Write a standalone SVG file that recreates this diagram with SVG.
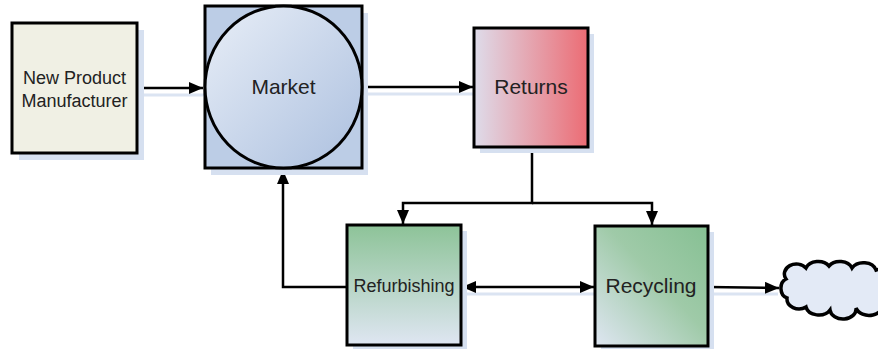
<svg xmlns="http://www.w3.org/2000/svg" width="878" height="349" viewBox="0 0 878 349">
<defs>
<style>
.box{stroke:#000;stroke-width:3}
.sh{fill:#d6e0f0}
.lbl{font-family:"Liberation Sans",Arial,sans-serif;fill:#222;text-anchor:middle}
.con{fill:none;stroke:#000;stroke-width:2.5}
.csh{fill:none;stroke:#dbe4f2;stroke-width:3}
</style>
<marker id="ah" markerUnits="userSpaceOnUse" markerWidth="14" markerHeight="12" viewBox="0 0 14 12" refX="14" refY="6" orient="auto-start-reverse">
<path d="M0,0 L14,6 L0,12 Z" fill="#000"/>
</marker>
<linearGradient id="gMarket" x1="0" y1="0" x2="1" y2="1">
<stop offset="0" stop-color="#e8eef7"/>
<stop offset="1" stop-color="#acc0df"/>
</linearGradient>
<linearGradient id="gRet" x1="0" y1="0" x2="1" y2="0">
<stop offset="0" stop-color="#dedcea"/>
<stop offset="1" stop-color="#ec6c74"/>
</linearGradient>
<linearGradient id="gRef" x1="0" y1="0" x2="0" y2="1">
<stop offset="0" stop-color="#8dc398"/>
<stop offset="1" stop-color="#dfe6f2"/>
</linearGradient>
<linearGradient id="gRec" x1="0" y1="1" x2="1" y2="0">
<stop offset="0" stop-color="#dfe6f2"/>
<stop offset="0.55" stop-color="#9fcaa8"/>
<stop offset="1" stop-color="#86c093"/>
</linearGradient>
</defs>

<g id="connectors">
<g>
<path class="csh" d="M140,95 H204"/>
<path class="csh" d="M365,94 H476"/>
<path class="csh" d="M466,294 H596"/>
<path class="csh" d="M712,294 H778"/>
</g>
<path class="con" d="M137,88 H203" marker-end="url(#ah)"/>
<path class="con" d="M362,87 H473" marker-end="url(#ah)"/>
<path class="con" d="M532,147 V203 H403 V224" marker-end="url(#ah)"/>
<path class="con" d="M532,203 H652 V225" marker-end="url(#ah)"/>
<path class="con" d="M347,287 H283 V170" marker-end="url(#ah)"/>
<path class="con" d="M462,287 H594" marker-start="url(#ah)" marker-end="url(#ah)"/>
<path class="con" d="M708,287 L779,288" marker-end="url(#ah)"/>
</g>

<g id="npm">
<rect class="sh" x="19" y="30" width="125" height="130"/>
<rect class="box" x="12" y="23" width="125" height="130" fill="#f0f0e4"/>
<text class="lbl" x="74.5" y="84" font-size="18">New Product</text>
<text class="lbl" x="74.5" y="107" font-size="18">Manufacturer</text>
</g>

<g id="market">
<rect class="sh" x="211" y="13" width="157" height="162"/>
<rect class="box" x="205" y="6" width="157" height="162" fill="#bccde6"/>
<ellipse class="box" cx="283.5" cy="87" rx="78.5" ry="81" fill="url(#gMarket)"/>
<text class="lbl" x="283.5" y="94" font-size="21">Market</text>
</g>

<g id="returns">
<rect class="sh" x="480" y="34" width="114" height="119"/>
<rect class="box" x="474" y="28" width="114" height="119" fill="url(#gRet)"/>
<text class="lbl" x="531" y="94" font-size="21">Returns</text>
</g>

<g id="refurbishing">
<rect class="sh" x="353" y="231" width="114" height="120"/>
<rect class="box" x="347" y="225" width="114" height="120" fill="url(#gRef)"/>
<text class="lbl" x="404" y="292" font-size="18">Refurbishing</text>
</g>

<g id="recycling">
<rect class="sh" x="601" y="232" width="113" height="120"/>
<rect class="box" x="595" y="226" width="113" height="120" fill="url(#gRec)"/>
<text class="lbl" x="651" y="293" font-size="21">Recycling</text>
</g>

<g id="cloud">
<path d="M786,279 A12,10 0 0 1 806,268 A13,10 0 0 1 829,266 A13,10 0 0 1 852,268 A13,10 0 0 1 876,270 A10,14 0 0 1 882,302 A13,10 0 0 1 856,308 A13,10 0 0 1 830,310 A13,10 0 0 1 806,307 A12,10 0 0 1 787,298 A8,10 0 0 1 786,279 Z" fill="#e3eaf6" stroke="#000" stroke-width="3.5"/>
</g>
</svg>
